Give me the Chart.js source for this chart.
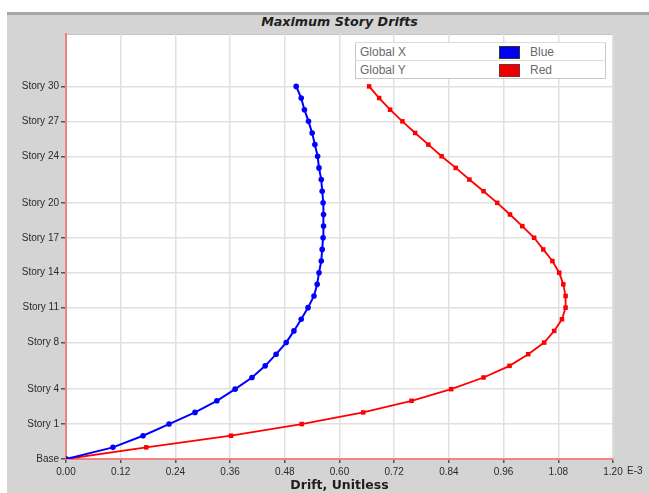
<!DOCTYPE html>
<html>
<head>
<meta charset="utf-8">
<script src="https://cdn.jsdelivr.net/npm/chart.js@4.4.1/dist/chart.umd.min.js"></script>
<style>
body{margin:0;background:#fff;width:649px;height:493px;overflow:hidden;position:relative;font-family:"Liberation Sans",Arial,sans-serif}
#panel{position:absolute;left:7px;top:12px;width:642px;height:481px;background:#d4d4d4;border-top:3px solid #a6a6a6;box-sizing:border-box}
#title{position:absolute;left:66px;width:547px;top:14px;text-align:center;font:italic bold 12.7px "DejaVu Sans",sans-serif;color:#1e1e1e}
#legend{position:absolute;left:355px;top:42px;width:251px;border:1px solid #c8c8c8;background:#fff;border-collapse:collapse;font-size:12px;color:#6a6a6a}
#legend td{height:17px;padding:0;border-top:1px solid #dcdcdc}
#legend .sw{display:inline-block;width:21px;height:13px;vertical-align:middle;box-sizing:border-box}
canvas{position:absolute;left:0;top:0}
</style>
</head>
<body>
<div id="panel"></div>
<div id="title">Maximum Story Drifts</div>
<canvas id="driftChart" width="649" height="493"></canvas>
<table id="legend">
<tr><td style="padding-left:4px;width:139px">Global X</td><td style="width:31px"><span class="sw" style="background:#0000f0;border:1px solid #333"></span></td><td>Blue</td></tr>
<tr><td style="padding-left:4px">Global Y</td><td><span class="sw" style="background:#ee0000;border:1px solid #733"></span></td><td>Red</td></tr>
</table>
<script>
// level 0 = Base, story n sits at level n+2
const levels=[0,1,2,3,4,5,6,7,8,9,10,11,12,13,14,15,16,17,18,19,20,21,22,23,24,25,26,27,28,29,30,31,32]

// drift values, x 1E-3
const driftX=[0,0.103,0.169,0.226,0.283,0.331,0.371,0.408,0.437,0.461,0.483,0.500,0.516,0.531,0.544,0.551,0.555,0.560,0.562,0.564,0.565,0.565,0.564,0.562,0.560,0.555,0.552,0.546,0.540,0.532,0.523,0.516,0.505]
const driftY=[0,0.176,0.362,0.517,0.652,0.758,0.845,0.916,0.973,1.014,1.049,1.071,1.088,1.096,1.096,1.091,1.082,1.067,1.047,1.027,1.001,0.974,0.946,0.916,0.885,0.855,0.824,0.795,0.766,0.738,0.711,0.687,0.665]

const yTicks=[0,3,6,10,13,16,19,22,26,29,32]
const yLabels=["Base","Story 1","Story 4","Story 8","Story 11","Story 14","Story 17","Story 20","Story 24","Story 27","Story 30"]
const xTicks=[0,0.12,0.24,0.36,0.48,0.60,0.72,0.84,0.96,1.08,1.20]

const tickFont={family:"'Liberation Sans', Arial, sans-serif",size:10}
const axisRed="rgba(255,70,70,0.6)"

const plotFrame={
id:"plotFrame",
beforeDraw(c){
const a=c.chartArea
const g=c.ctx
g.save()
g.fillStyle="#fff"
g.fillRect(a.left,a.top,a.right-a.left,a.bottom-a.top)
g.strokeStyle="#c4c4c4"
g.lineWidth=1
g.strokeRect(a.left+0.5,a.top+0.5,a.right-a.left-1,a.bottom-a.top-1)
g.restore()
},
afterDraw(c){
// unit suffix after the last tick
const g=c.ctx
const x=c.scales.x.getPixelForValue(1.2)
g.save()
g.font="10px 'Liberation Sans', Arial, sans-serif"
g.fillStyle="#2a2a2a"
g.textBaseline="middle"
g.fillText("E-3",x+14,c.scales.x.top+12)
g.restore()
}
}

const ctx=document.getElementById("driftChart").getContext("2d")

new Chart(ctx,{
type:"line",
data:{
datasets:[{
label:"Global X",
data:levels.map((l,i)=>({x:driftX[i],y:l})),
borderColor:"#0000ff",
backgroundColor:"#0000ff",
borderWidth:2,
pointStyle:"circle",
pointRadius:2.8,
pointBorderWidth:0,
tension:0
},{
label:"Global Y",
data:levels.map((l,i)=>({x:driftY[i],y:l})),
borderColor:"#ff0000",
backgroundColor:"#ff0000",
borderWidth:1.8,
pointStyle:"rect",
pointRadius:3.2,
pointBorderWidth:0,
tension:0
}]
},
options:{
responsive:false,
animation:false,
devicePixelRatio:1,
layout:{padding:{left:0,top:34,right:36,bottom:0}},
plugins:{legend:{display:false},tooltip:{enabled:false}},
scales:{
x:{
type:"linear",
min:0,
max:1.2,
afterBuildTicks:s=>{s.ticks=xTicks.map(v=>({value:v}))},
afterFit:s=>{s.height=34},
ticks:{
font:tickFont,
color:"#2a2a2a",
padding:3,
maxRotation:0,
autoSkip:false,
callback:v=>v.toFixed(2)
},
grid:{color:"#e0e0e0",lineWidth:1.5,tickColor:"#555",tickLength:4},
border:{color:axisRed,width:2},
title:{
display:true,
text:"Drift, Unitless",
font:{family:"'DejaVu Sans', sans-serif",size:12.5,weight:"bold"},
color:"#1e1e1e",
padding:{top:0,bottom:0}
}
},
y:{
type:"linear",
min:0,
max:36.5,
afterBuildTicks:s=>{s.ticks=yTicks.map(v=>({value:v}))},
afterFit:s=>{s.width=66},
ticks:{
font:tickFont,
color:"#2a2a2a",
padding:2,
autoSkip:false,
callback:v=>yLabels[yTicks.indexOf(v)]
},
grid:{color:"#e0e0e0",lineWidth:1.5,tickColor:"#555",tickLength:5},
border:{color:axisRed,width:2}
}
}
},
plugins:[plotFrame]
})
</script>
</body>
</html>
